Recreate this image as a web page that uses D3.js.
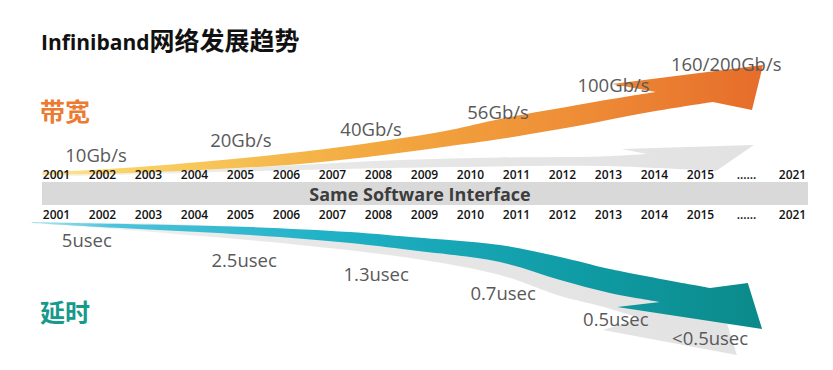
<!DOCTYPE html>
<html>
<head>
<meta charset="utf-8">
<script src="https://cdn.jsdelivr.net/npm/d3@7"></script>
<style>
  body { margin: 0; background: #fff; }
  svg { display: block; }
</style>
</head>
<body>
<svg id="chart" width="833" height="370"></svg>
<script>
// year ticks shown above and below the software band
const yearLabels = ["2001", "2002", "2003", "2004", "2005", "2006", "2007", "2008",
    "2009", "2010", "2011", "2012", "2013", "2014", "2015", "......", "2021"];

// bandwidth generations (position in year-slots, label)
const bwLabels = ["10Gb/s", "20Gb/s", "40Gb/s", "56Gb/s", "100Gb/s", "160/200Gb/s"];
const bwSlot = [0.87, 4.02, 6.85, 9.61, 12.12, 14.57];

// latency generations
const latLabels = ["5usec", "2.5usec", "1.3usec", "0.7usec", "0.5usec", "<0.5usec"];
const latSlot = [0.67, 4.09, 6.96, 9.72, 12.17, 14.22];

// layout: label baselines
const bwBase = [162, 147, 135.5, 119, 92, 71];
const latBase = [247, 267, 281, 300, 326, 345];

// arrow outlines: [year-slot, y]
const bwTop = [[-0.30, 172], [0.96, 169.5], [3.13, 162], [5.30, 152], [7.11, 141], [8.57, 130],
    [9.65, 119], [11.33, 105], [12.48, 96], [13.04, 92]];
const bwHead = [[12.09, 84], [15.37, 65], [15.13, 110], [14.28, 102]];
const bwBottom = [[14.28, 102], [12.91, 112], [11.33, 126], [9.65, 139], [8.57, 146], [7.11, 155],
    [5.30, 164], [3.13, 170], [0.96, 174], [-0.30, 175]];

const bwShTop = [[-0.30, 176], [3.13, 170], [5.30, 165], [7.48, 160], [9.65, 157.5], [11.83, 156.5], [12.85, 154]];
const bwShHead = [[12.30, 149], [15.17, 145], [14.35, 171]];
const bwShBottom = [[14.35, 171], [11.83, 166], [8.57, 167], [5.30, 170], [2.04, 174], [-0.30, 177]];

const latTop = [[-0.52, 222], [0.96, 223.5], [4.22, 227], [6.39, 232], [7.70, 237], [9.65, 245],
    [10.96, 257], [12.04, 269], [14.22, 288]];
const latHead = [[15.04, 283], [15.35, 329], [12.20, 307], [13.13, 302]];
const latBottom = [[13.13, 302], [12.04, 293], [10.96, 280], [9.65, 262], [7.70, 250], [6.39, 243],
    [4.22, 235], [0.96, 227], [-0.52, 223]];

const latShTop = [[-0.57, 222], [3.13, 225], [7.48, 238], [10.74, 260], [13.57, 290]];
const latShHead = [[14.43, 300], [14.80, 355], [11.89, 330], [12.70, 318]];
const latShBottom = [[12.70, 318], [11.83, 306], [10.96, 296], [9.65, 275], [7.70, 258], [5.30, 245],
    [3.13, 236], [0.96, 228], [-0.57, 223]];

const svg = d3.select("#chart");
const x = d3.scalePoint().domain(yearLabels).range([56, 792]);
const xs = d3.scaleLinear().domain([0, yearLabels.length - 1]).range([56, 792]);

const defs = svg.append("defs");
function grad(id, stops) {
    const g = defs.append("linearGradient").attr("id", id)
        .attr("gradientUnits", "userSpaceOnUse")
        .attr("x1", 40).attr("x2", 765).attr("y1", 0).attr("y2", 0);
    stops.forEach(s => g.append("stop").attr("offset", s[0]).attr("stop-color", s[1]));
}
grad("gOrange", [[0, "#fde7a2"], [0.12, "#f9d264"], [0.45, "#f3aa40"], [0.75, "#ee8c36"], [1, "#e66c2a"]]);
grad("gTeal", [[0, "#a5e2ef"], [0.1, "#4cc4dc"], [0.4, "#20b1c6"], [0.75, "#0f9ba4"], [1, "#0b8989"]]);
grad("gGray", [[0, "#f6f6f6"], [0.3, "#e8e8e8"], [1, "#e2e2e2"]]);

const edge = d3.line().x(d => xs(d[0])).y(d => d[1]).curve(d3.curveCatmullRom);
function arrowPath(top, head, bottom) {
    let s = edge(top);
    s += head.map(p => "L" + xs(p[0]) + "," + p[1]).join("");
    s += edge(bottom).replace(/^M/, "L");
    return s + "Z";
}

// shadows first, then the coloured arrows
svg.append("path").attr("d", arrowPath(bwShTop, bwShHead, bwShBottom)).attr("fill", "url(#gGray)");
svg.append("path").attr("d", arrowPath(latShTop, latShHead, latShBottom)).attr("fill", "url(#gGray)");
svg.append("path").attr("d", arrowPath(bwTop, bwHead, bwBottom)).attr("fill", "url(#gOrange)");
svg.append("path").attr("d", arrowPath(latTop, latHead, latBottom)).attr("fill", "url(#gTeal)");

// software band
svg.append("rect").attr("x", 42).attr("y", 182).attr("width", 766).attr("height", 23).attr("fill", "#d9d9d9");
svg.append("text").attr("x", 420).attr("y", 201).attr("text-anchor", "middle")
    .attr("font-family", "Open Sans").attr("font-weight", "bold").attr("font-size", 18)
    .attr("fill", "#3d3d3d").text("Same Software Interface");

// year rows
[170.5, 210].forEach(ty => {
    const ax = svg.append("g").attr("transform", "translate(0," + ty + ")")
        .call(d3.axisBottom(x).tickSize(0).tickPadding(0));
    ax.select(".domain").remove();
    ax.selectAll("text").attr("font-family", "Open Sans").attr("font-size", 12)
        .attr("font-weight", 600).attr("fill", "#111");
});

// value labels
const lab = (texts, slots, bases) => svg.append("g").selectAll("text")
    .data(texts).enter().append("text")
    .attr("x", (d, i) => xs(slots[i])).attr("y", (d, i) => bases[i])
    .attr("text-anchor", "middle").attr("font-family", "Open Sans").attr("font-size", 18.5)
    .attr("fill", "#595959").text(d => d);
lab(bwLabels, bwSlot, bwBase);
lab(latLabels, latSlot, latBase);

// title and section names
const title = svg.append("text").attr("x", 41).attr("y", 50).attr("font-weight", "bold").attr("fill", "#111");
title.append("tspan").attr("font-family", "Open Sans").attr("font-size", 21).text("Infiniband");
title.append("tspan").attr("font-family", "Noto Sans CJK SC").attr("font-size", 25).text("网络发展趋势");

svg.append("text").attr("x", 40).attr("y", 121).attr("font-family", "Noto Sans CJK SC")
    .attr("font-weight", "bold").attr("font-size", 25).attr("fill", "#ec7a30").text("带宽");
svg.append("text").attr("x", 40).attr("y", 322).attr("font-family", "Noto Sans CJK SC")
    .attr("font-weight", "bold").attr("font-size", 25).attr("fill", "#17998c").text("延时");
</script>
</body>
</html>
